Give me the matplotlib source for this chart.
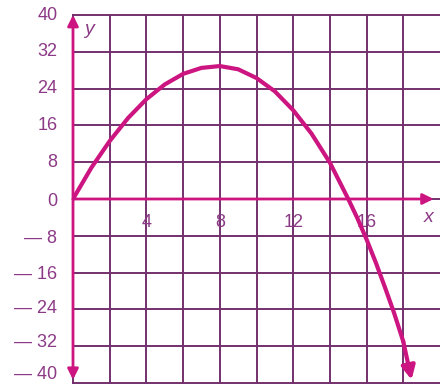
import matplotlib
matplotlib.use("Agg")
import matplotlib.pyplot as plt

# data
curve_x = [0, 1, 2, 3, 4, 5, 6, 7, 8, 9, 10, 11, 12, 13, 14, 15, 15.5, 16, 16.5, 17, 17.5, 18]
curve_y = [0, 6.8, 12.6, 17.6, 21.7, 24.9, 27.2, 28.5, 28.9, 28.2, 26.3, 23.4, 19.3, 14.2, 7.9, 0,
           -4.2, -8.8, -13.8, -19.2, -24.8, -31.0]
arrow_tip = (18.45, -39.3)
x_tick_labels = [4, 8, 12, 16]
y_tick_labels = [40, 32, 24, 16, 8, 0, -8, -16, -24, -32, -40]
y_label_pos = [40, 32, 24, 16, 8, -0.6, -8.6, -16.4, -23.8, -31.2, -38.2]
x_grid = list(range(0, 20, 2))
y_grid = list(range(-40, 41, 8))

MAG = "#cc1580"
GRID = "#74306e"
TXT = "#8c3a86"

plt.rcParams['font.family'] = ['Liberation Sans Narrow', 'Liberation Sans', 'DejaVu Sans']

fig = plt.figure(figsize=(4.4, 3.88), dpi=100)
ax = fig.add_axes([73 / 440, 5 / 388, 367 / 440, 368 / 388])
ax.set_xlim(0, 20)
ax.set_ylim(-40, 40)
ax.axis('off')

for gx in x_grid:
    ax.plot([gx, gx], [-40, 40], color=GRID, lw=1.4, clip_on=False, zorder=1)
for gy in y_grid:
    ax.plot([0, 20], [gy, gy], color=GRID, lw=1.4, clip_on=False, zorder=1)

# axes with arrows
ap = dict(arrowstyle='-|>', color=MAG, lw=2.0, mutation_scale=16, shrinkA=0, shrinkB=0)
ax.annotate('', xy=(0, 40), xytext=(0, 0), arrowprops=ap, annotation_clip=False, zorder=3)
ax.annotate('', xy=(0, -39.3), xytext=(0, 0), arrowprops=ap, annotation_clip=False, zorder=3)
ax.annotate('', xy=(19.65, 0), xytext=(0, 0), arrowprops=ap, annotation_clip=False, zorder=3)

# curve
ax.plot(curve_x, curve_y, color=MAG, lw=3.0, solid_capstyle='round', solid_joinstyle='round', zorder=4)
ap2 = dict(arrowstyle='-|>', color=MAG, lw=3.0, mutation_scale=20, shrinkA=0, shrinkB=0)
ax.annotate('', xy=arrow_tip, xytext=(curve_x[-1], curve_y[-1]), arrowprops=ap2, annotation_clip=False, zorder=4)

# labels
for v, p in zip(y_tick_labels, y_label_pos):
    s = ('\u2014 ' + str(-v)) if v < 0 else str(v)
    ax.text(-0.85, p, s, ha='right', va='center', fontsize=13, color=TXT, clip_on=False)
for v in x_tick_labels:
    ax.text(v, -5.0, str(v), ha='center', va='center', fontsize=13, color=TXT, clip_on=False)

ax.text(0.85, 36.8, 'y', ha='center', va='center', fontsize=14, style='italic', color=TXT)
ax.text(19.4, -4.0, 'x', ha='center', va='center', fontsize=14, style='italic', color=TXT)

fig.savefig('out.png', dpi=100)
